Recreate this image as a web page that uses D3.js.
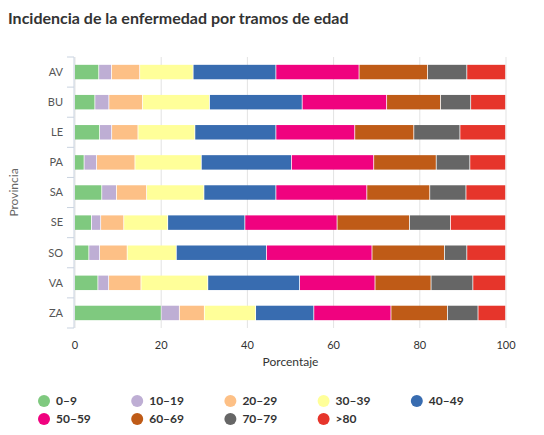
<!DOCTYPE html>
<html><head><meta charset="utf-8">
<script src="https://cdn.jsdelivr.net/npm/d3@7"></script>
<style>body{margin:0;background:#fff;font-family:Lato,sans-serif}</style>
</head><body>
<script>
const provincias = ["AV","BU","LE","PA","SA","SE","SO","VA","ZA"];
const tramos = ["0-9","10-19","20-29","30-39","40-49","50-59","60-69","70-79",">80"];
const etiquetas = ["0–9","10–19","20–29","30–39","40–49","50–59","60–69","70–79",">80"];
const colores = ["#7fc97f","#beaed4","#fdc086","#ffff99","#386cb0","#f0027f","#bf5b17","#666666","#e6352b"];
// porcentaje por tramo, una fila por provincia
const valores = [
  [5.6,2.95,6.55,12.4,19.2,19.3,15.9,9.1,9.0],
  [4.7,3.25,7.8,15.55,21.5,19.6,12.5,7.0,8.1],
  [5.8,2.8,6.1,13.2,18.8,18.3,13.7,10.7,10.6],
  [2.2,2.9,8.9,15.4,20.9,19.1,14.5,7.8,8.3],
  [6.3,3.4,7.0,13.3,16.7,21.1,14.6,8.4,9.2],
  [3.9,2.15,5.35,10.2,17.9,21.4,16.8,9.5,12.8],
  [3.3,2.5,6.4,11.4,20.9,24.5,16.8,5.2,9.0],
  [5.4,2.5,7.5,15.5,21.3,17.5,13.0,9.7,7.6],
  [20.1,4.2,5.8,11.9,13.5,17.9,13.1,7.1,6.4]
];
const xTicks = [0,20,40,60,80,100];

const rows = provincias.map((p,i) => {
  const o = {prov:p};
  tramos.forEach((t,j) => o[t] = valores[i][j]);
  return o;
});
const series = d3.stack().keys(tramos)(rows);

const svg = d3.select("body").append("svg").attr("width",544).attr("height",435);
const mLeft = 75, mRight = 506, mTop = 57, mBottom = 328;
const x = d3.scaleLinear().domain([0,100]).range([mLeft,mRight]);
const y = d3.scaleBand().domain(provincias).range([mTop,mBottom]).paddingInner(0.52).paddingOuter(0.26);
const color = d3.scaleOrdinal().domain(tramos).range(colores);

svg.append("text").attr("x",8).attr("y",24).text("Incidencia de la enfermedad por tramos de edad")
  .style("font-size","16px").style("font-weight","bold").attr("fill","#333");

svg.append("g").selectAll("line").data(xTicks).join("line")
  .attr("x1",d=>x(d)).attr("x2",d=>x(d)).attr("y1",mTop).attr("y2",mBottom)
  .attr("stroke","#e3e3e3");

svg.append("g").selectAll("g").data(series).join("g")
  .attr("fill",d=>color(d.key))
  .selectAll("rect").data(d=>d).join("rect")
  .attr("x",d=>x(d[0])).attr("width",d=>Math.max(0,x(d[1])-x(d[0])-0.8))
  .attr("y",d=>y(d.data.prov)).attr("height",y.bandwidth());

// eje y
const step = y.step();
const ya = svg.append("g");
ya.append("line").attr("x1",mLeft-1).attr("x2",mLeft-1).attr("y1",mTop).attr("y2",mBottom).attr("stroke","#c9d3e0");
ya.selectAll(".tk").data(d3.range(provincias.length+1)).join("line")
  .attr("x1",mLeft-8).attr("x2",mLeft-1)
  .attr("y1",i=>mTop+i*step).attr("y2",i=>mTop+i*step).attr("stroke","#c9d3e0");
ya.selectAll("text").data(provincias).join("text")
  .attr("x",mLeft-12).attr("y",d=>y(d)+y.bandwidth()/2).attr("dy","0.35em")
  .attr("text-anchor","end").text(d=>d).style("font-size","11px").attr("fill","#555");

svg.append("g").selectAll("text").data(xTicks).join("text")
  .attr("x",d=>x(d)).attr("y",mBottom+21).attr("text-anchor","middle").text(d=>d)
  .style("font-size","11px").attr("fill","#333");

svg.append("text").attr("x",(mLeft+mRight)/2).attr("y",mBottom+38).attr("text-anchor","middle")
  .text("Porcentaje").style("font-size","12px").attr("fill","#333");
svg.append("text").attr("transform",`translate(18,${(mTop+mBottom)/2}) rotate(-90)`)
  .attr("text-anchor","middle").text("Provincia").style("font-size","12px").attr("fill","#666");

// leyenda
const lg = svg.append("g").selectAll("g").data(etiquetas).join("g")
  .attr("transform",(d,i)=>`translate(${44+(i%5)*93.2},${401+Math.floor(i/5)*18})`);
lg.append("circle").attr("r",6).attr("fill",(d,i)=>colores[i]);
lg.append("text").attr("x",12).attr("dy","0.35em").text(d=>d)
  .style("font-size","12px").style("font-weight","bold").attr("fill","#333");
</script>
</body></html>
